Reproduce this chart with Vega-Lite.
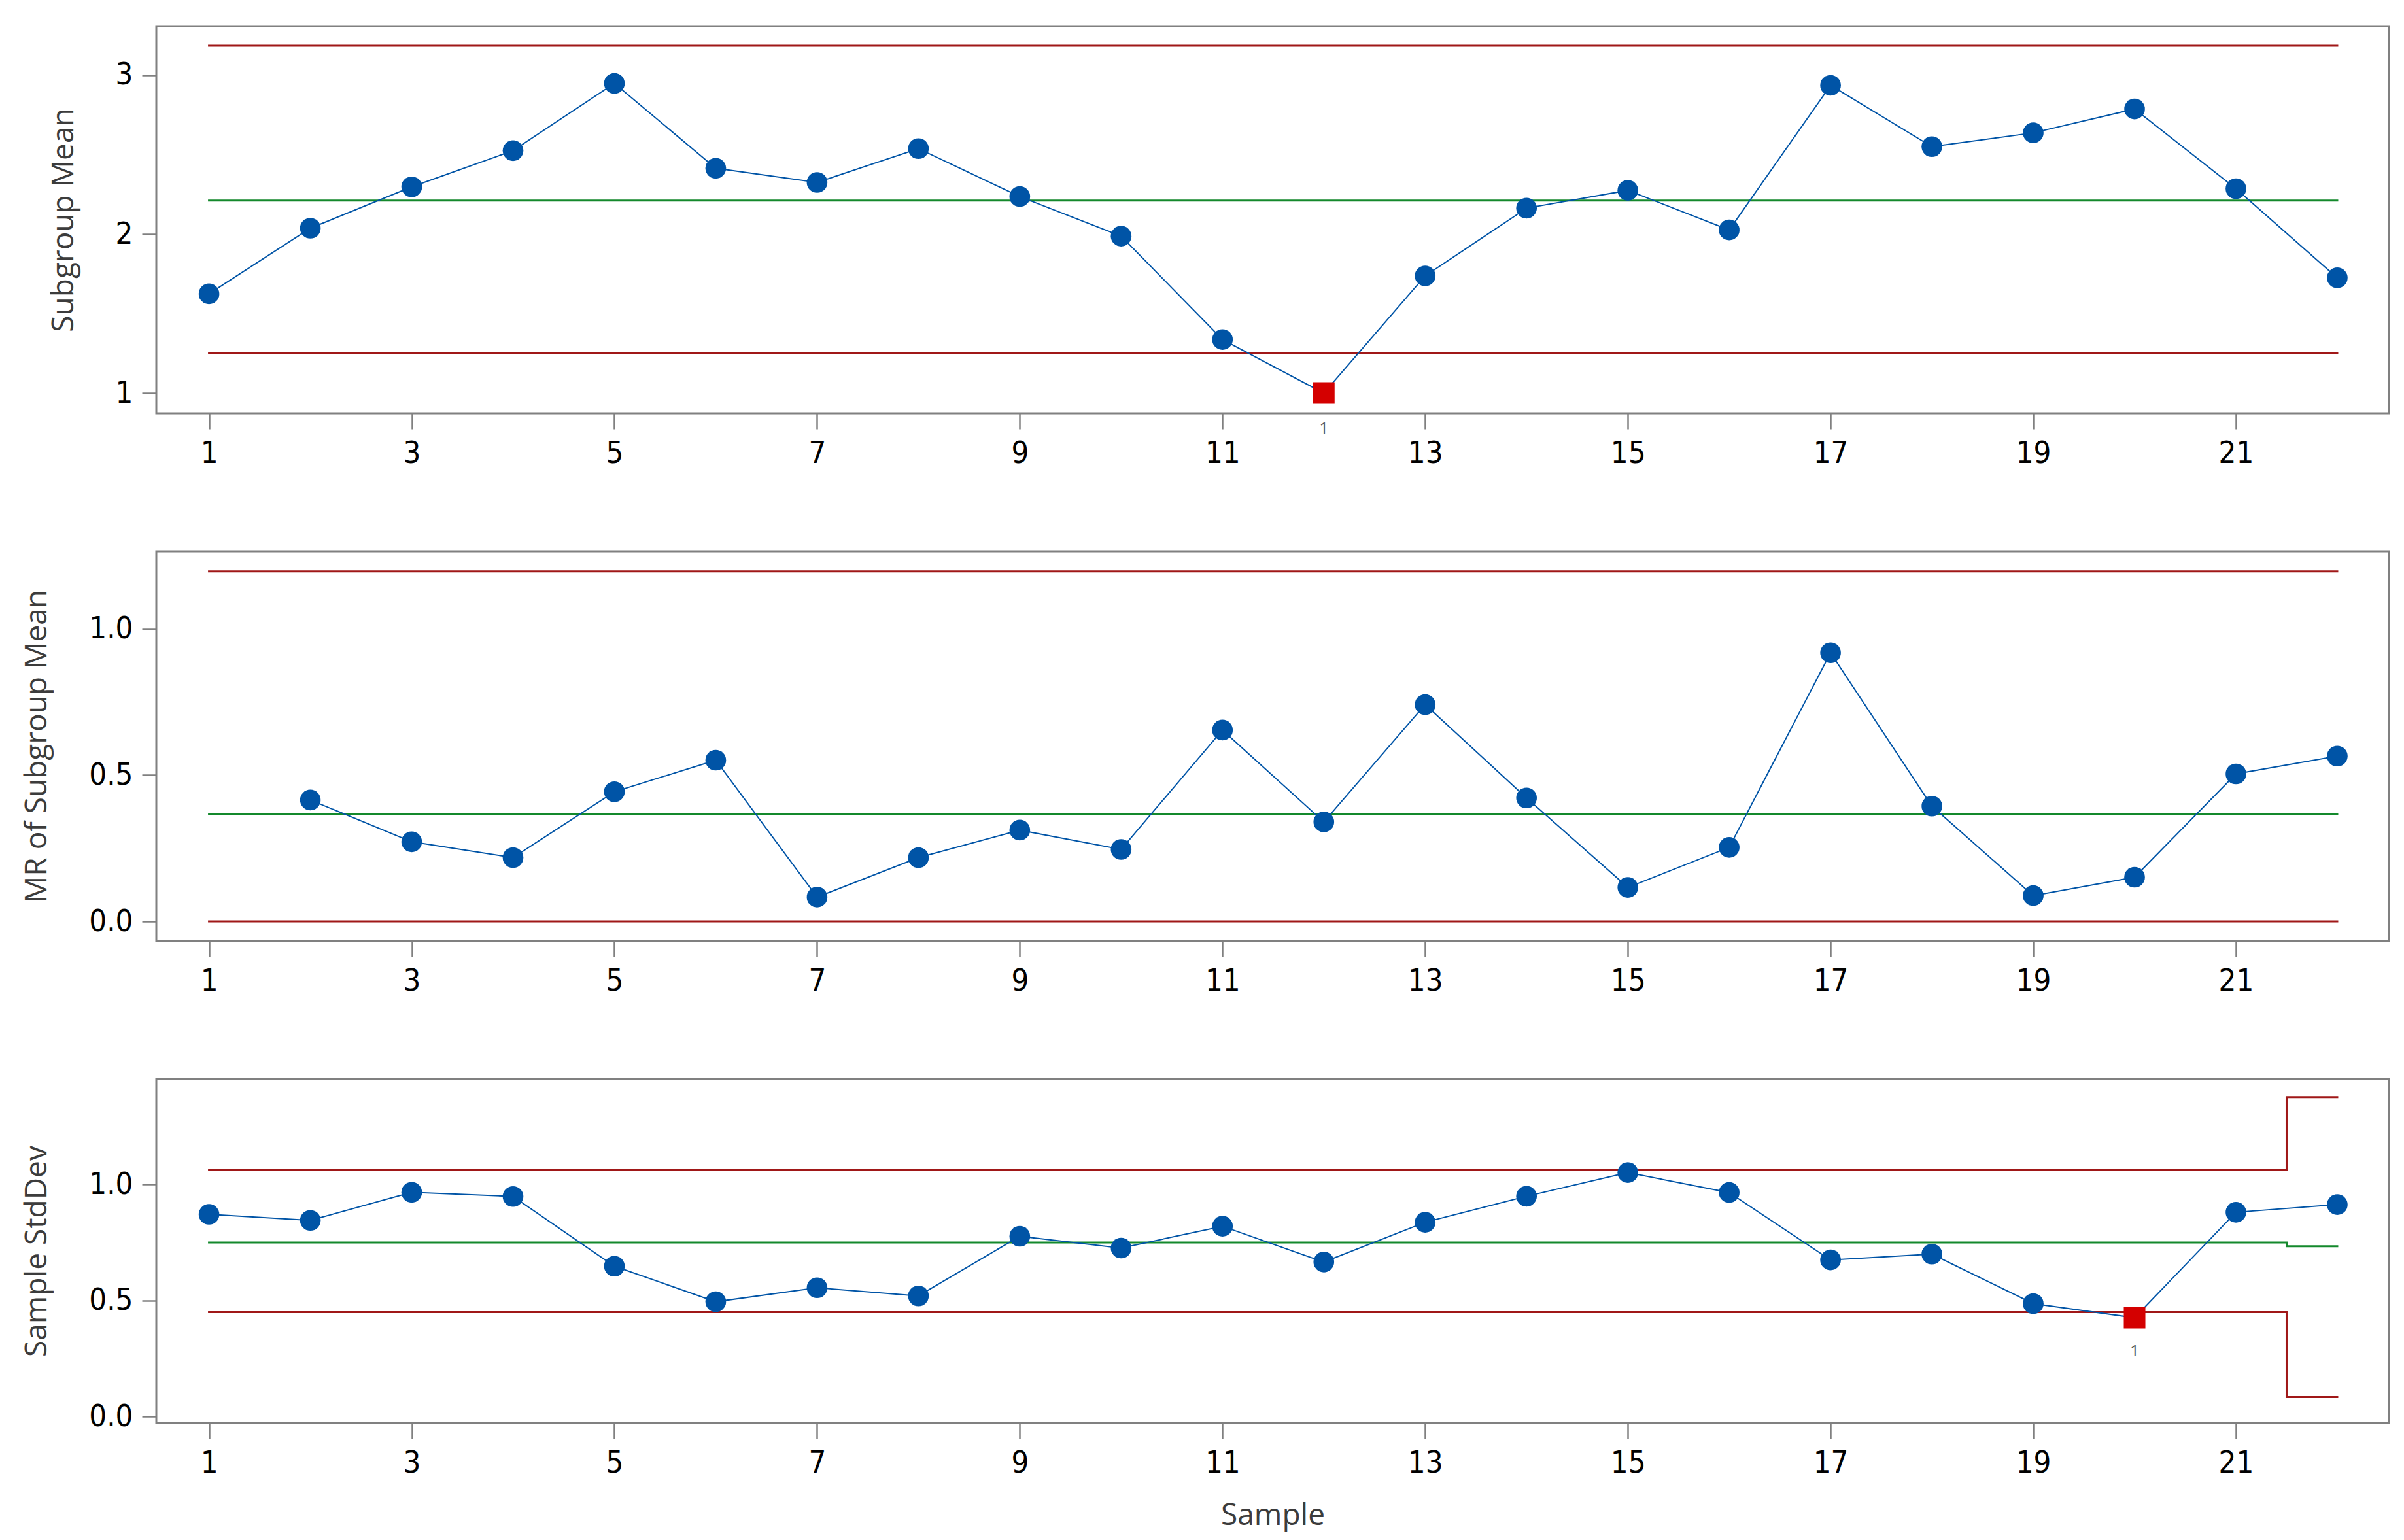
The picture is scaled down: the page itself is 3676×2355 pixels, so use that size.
{
  "$schema": "https://vega.github.io/schema/vega-lite/v6.json",
  "padding": {"left": 32, "top": 38, "right": 20, "bottom": 10},
  "background": "white",
  "datasets": {
    "means": [
      {"sample": 1, "value": 1.624, "out": false},
      {"sample": 2, "value": 2.037, "out": false},
      {"sample": 3, "value": 2.297, "out": false},
      {"sample": 4, "value": 2.525, "out": false},
      {"sample": 5, "value": 2.948, "out": false},
      {"sample": 6, "value": 2.414, "out": false},
      {"sample": 7, "value": 2.325, "out": false},
      {"sample": 8, "value": 2.538, "out": false},
      {"sample": 9, "value": 2.236, "out": false},
      {"sample": 10, "value": 1.987, "out": false},
      {"sample": 11, "value": 1.337, "out": false},
      {"sample": 12, "value": 1.000, "out": true},
      {"sample": 13, "value": 1.737, "out": false},
      {"sample": 14, "value": 2.163, "out": false},
      {"sample": 15, "value": 2.275, "out": false},
      {"sample": 16, "value": 2.026, "out": false},
      {"sample": 17, "value": 2.936, "out": false},
      {"sample": 18, "value": 2.550, "out": false},
      {"sample": 19, "value": 2.637, "out": false},
      {"sample": 20, "value": 2.787, "out": false},
      {"sample": 21, "value": 2.286, "out": false},
      {"sample": 22, "value": 1.725, "out": false}
    ],
    "mrs": [
      {"sample": 2, "value": 0.415, "out": false},
      {"sample": 3, "value": 0.272, "out": false},
      {"sample": 4, "value": 0.218, "out": false},
      {"sample": 5, "value": 0.443, "out": false},
      {"sample": 6, "value": 0.551, "out": false},
      {"sample": 7, "value": 0.083, "out": false},
      {"sample": 8, "value": 0.218, "out": false},
      {"sample": 9, "value": 0.312, "out": false},
      {"sample": 10, "value": 0.246, "out": false},
      {"sample": 11, "value": 0.654, "out": false},
      {"sample": 12, "value": 0.340, "out": false},
      {"sample": 13, "value": 0.741, "out": false},
      {"sample": 14, "value": 0.422, "out": false},
      {"sample": 15, "value": 0.116, "out": false},
      {"sample": 16, "value": 0.253, "out": false},
      {"sample": 17, "value": 0.918, "out": false},
      {"sample": 18, "value": 0.394, "out": false},
      {"sample": 19, "value": 0.088, "out": false},
      {"sample": 20, "value": 0.151, "out": false},
      {"sample": 21, "value": 0.504, "out": false},
      {"sample": 22, "value": 0.565, "out": false}
    ],
    "sds": [
      {"sample": 1, "value": 0.871, "out": false},
      {"sample": 2, "value": 0.845, "out": false},
      {"sample": 3, "value": 0.966, "out": false},
      {"sample": 4, "value": 0.948, "out": false},
      {"sample": 5, "value": 0.648, "out": false},
      {"sample": 6, "value": 0.495, "out": false},
      {"sample": 7, "value": 0.555, "out": false},
      {"sample": 8, "value": 0.520, "out": false},
      {"sample": 9, "value": 0.777, "out": false},
      {"sample": 10, "value": 0.726, "out": false},
      {"sample": 11, "value": 0.820, "out": false},
      {"sample": 12, "value": 0.666, "out": false},
      {"sample": 13, "value": 0.837, "out": false},
      {"sample": 14, "value": 0.949, "out": false},
      {"sample": 15, "value": 1.051, "out": false},
      {"sample": 16, "value": 0.965, "out": false},
      {"sample": 17, "value": 0.675, "out": false},
      {"sample": 18, "value": 0.700, "out": false},
      {"sample": 19, "value": 0.487, "out": false},
      {"sample": 20, "value": 0.426, "out": true},
      {"sample": 21, "value": 0.880, "out": false},
      {"sample": 22, "value": 0.913, "out": false}
    ],
    "lim_mean": [
      {"kind": "UCL", "sample": 1, "value": 3.185},
      {"kind": "UCL", "sample": 22, "value": 3.185},
      {"kind": "CL", "sample": 1, "value": 2.211},
      {"kind": "CL", "sample": 22, "value": 2.211},
      {"kind": "LCL", "sample": 1, "value": 1.250},
      {"kind": "LCL", "sample": 22, "value": 1.250}
    ],
    "lim_mr": [
      {"kind": "UCL", "sample": 1, "value": 1.196},
      {"kind": "UCL", "sample": 22, "value": 1.196},
      {"kind": "CL", "sample": 1, "value": 0.367},
      {"kind": "CL", "sample": 22, "value": 0.367},
      {"kind": "LCL", "sample": 1, "value": 0.0},
      {"kind": "LCL", "sample": 22, "value": 0.0}
    ],
    "lim_sd": [
      {"kind": "UCL", "sample": 1, "value": 1.061},
      {"kind": "UCL", "sample": 21.5, "value": 1.376},
      {"kind": "UCL", "sample": 22, "value": 1.376},
      {"kind": "CL", "sample": 1, "value": 0.750},
      {"kind": "CL", "sample": 21.5, "value": 0.734},
      {"kind": "CL", "sample": 22, "value": 0.734},
      {"kind": "LCL", "sample": 1, "value": 0.450},
      {"kind": "LCL", "sample": 21.5, "value": 0.084},
      {"kind": "LCL", "sample": 22, "value": 0.084}
    ]
  },
  "vconcat": [
    {
      "width": 3414,
      "height": 592,
      "encoding": {
        "x": {"field": "sample", "type": "quantitative", "scale": {"domain": [0.48, 22.51], "nice": false, "zero": false}, "axis": {"values": [1, 3, 5, 7, 9, 11, 13, 15, 17, 19, 21], "title": null}},
        "y": {"field": "value", "type": "quantitative", "scale": {"domain": [0.873, 3.308], "nice": false, "zero": false}, "axis": {"values": [1, 2, 3], "format": "d", "title": "Subgroup Mean"}}
      },
      "layer": [
        {"data": {"name": "lim_mean"}, "mark": {"type": "line", "interpolate": "step-after", "strokeWidth": 3, "strokeCap": "square"},
         "encoding": {"color": {"field": "kind", "type": "nominal", "scale": {"domain": ["UCL", "CL", "LCL"], "range": ["#a01818", "#14892c", "#a01818"]}, "legend": null}}},
        {"data": {"name": "means"}, "mark": {"type": "line", "color": "#0054a6", "strokeWidth": 2}},
        {"data": {"name": "means"}, "transform": [{"filter": "!datum.out"}], "mark": {"type": "point", "shape": "circle", "filled": true, "size": 1000, "color": "#0054a6", "opacity": 1}},
        {"data": {"name": "means"}, "transform": [{"filter": "datum.out"}], "mark": {"type": "point", "shape": "square", "filled": true, "size": 1089, "color": "#d40000", "opacity": 1}},
        {"data": {"name": "means"}, "transform": [{"filter": "datum.out"}], "mark": {"type": "text", "text": "1", "dy": 55, "fontSize": 24, "font": "Open Sans", "color": "#555555"}}
      ]
    },
    {
      "width": 3414,
      "height": 596,
      "encoding": {
        "x": {"field": "sample", "type": "quantitative", "scale": {"domain": [0.48, 22.51], "nice": false, "zero": false}, "axis": {"values": [1, 3, 5, 7, 9, 11, 13, 15, 17, 19, 21], "title": null}},
        "y": {"field": "value", "type": "quantitative", "scale": {"domain": [-0.067, 1.265], "nice": false, "zero": false}, "axis": {"values": [0, 0.5, 1], "format": ".1f", "title": "MR of Subgroup Mean"}}
      },
      "layer": [
        {"data": {"name": "lim_mr"}, "mark": {"type": "line", "interpolate": "step-after", "strokeWidth": 3, "strokeCap": "square"},
         "encoding": {"color": {"field": "kind", "type": "nominal", "scale": {"domain": ["UCL", "CL", "LCL"], "range": ["#a01818", "#14892c", "#a01818"]}, "legend": null}}},
        {"data": {"name": "mrs"}, "mark": {"type": "line", "color": "#0054a6", "strokeWidth": 2}},
        {"data": {"name": "mrs"}, "mark": {"type": "point", "shape": "circle", "filled": true, "size": 1000, "color": "#0054a6", "opacity": 1}}
      ]
    },
    {
      "width": 3414,
      "height": 526,
      "encoding": {
        "x": {"field": "sample", "type": "quantitative", "scale": {"domain": [0.48, 22.51], "nice": false, "zero": false}, "axis": {"values": [1, 3, 5, 7, 9, 11, 13, 15, 17, 19, 21], "title": "Sample"}},
        "y": {"field": "value", "type": "quantitative", "scale": {"domain": [-0.027, 1.454], "nice": false, "zero": false}, "axis": {"values": [0, 0.5, 1], "format": ".1f", "title": "Sample StdDev"}}
      },
      "layer": [
        {"data": {"name": "lim_sd"}, "mark": {"type": "line", "interpolate": "step-after", "strokeWidth": 3, "strokeCap": "square"},
         "encoding": {"color": {"field": "kind", "type": "nominal", "scale": {"domain": ["UCL", "CL", "LCL"], "range": ["#a01818", "#14892c", "#a01818"]}, "legend": null}}},
        {"data": {"name": "sds"}, "mark": {"type": "line", "color": "#0054a6", "strokeWidth": 2}},
        {"data": {"name": "sds"}, "transform": [{"filter": "!datum.out"}], "mark": {"type": "point", "shape": "circle", "filled": true, "size": 1000, "color": "#0054a6", "opacity": 1}},
        {"data": {"name": "sds"}, "transform": [{"filter": "datum.out"}], "mark": {"type": "point", "shape": "square", "filled": true, "size": 1089, "color": "#d40000", "opacity": 1}},
        {"data": {"name": "sds"}, "transform": [{"filter": "datum.out"}], "mark": {"type": "text", "text": "1", "dy": 52, "fontSize": 24, "font": "Open Sans", "color": "#555555"}}
      ]
    }
  ],
  "spacing": 211,
  "bounds": "flush",
  "resolve": {"scale": {"y": "independent", "x": "independent"}},
  "config": {
    "view": {"stroke": "#808080", "strokeWidth": 3},
    "axis": {
      "domain": false,
      "grid": false,
      "tickColor": "#808080",
      "tickWidth": 2.5,
      "labelFont": "Liberation Sans Narrow, DejaVu Sans Condensed, Liberation Sans, sans-serif",
      "labelFontSize": 47,
      "labelColor": "#000000",
      "titleFont": "Open Sans",
      "titleFontSize": 46,
      "titleFontWeight": "normal",
      "titleColor": "#3c3c3c"
    },
    "axisX": {"tickSize": 24, "labelPadding": 14, "titlePadding": 35},
    "axisY": {"tickSize": 22, "labelPadding": 14, "titlePadding": 55}
  }
}
